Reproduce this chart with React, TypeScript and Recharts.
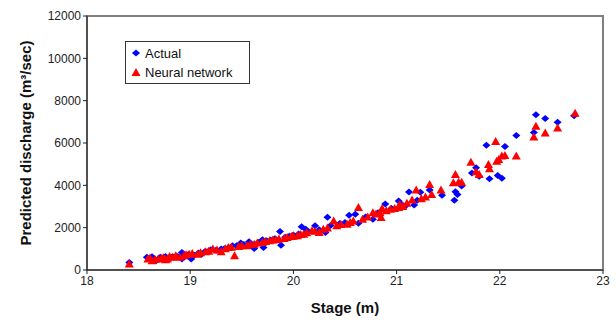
import { Scatter, ScatterChart, XAxis, YAxis, ZAxis, ReferenceArea } from "recharts";

const xTicks = [18, 19, 20, 21, 22, 23];
const yTicks = [0, 2000, 4000, 6000, 8000, 10000, 12000];

const actualStage = [
  18.41, 18.58, 18.62, 18.63, 18.65, 18.67, 18.7, 18.71, 18.74, 18.76, 18.78, 18.82, 18.84, 18.88, 18.92,
  18.92, 18.95, 18.98, 19.01, 19.04, 19.08, 19.11, 19.14, 19.18, 19.2, 19.25, 19.3, 19.33, 19.37, 19.41,
  19.45, 19.49, 19.52, 19.57, 19.58, 19.62, 19.66, 19.7, 19.71, 19.74, 19.78, 19.82, 19.87, 19.88, 19.92,
  19.96, 20.0, 20.05, 20.08, 20.12, 20.15, 20.21, 20.25, 20.31, 20.33, 20.36, 20.45, 20.5, 20.54, 20.6,
  20.63, 20.7, 20.77, 20.82, 20.89, 20.95, 21.02, 21.05, 21.08, 21.12, 21.17, 21.2, 21.23, 21.32, 21.44,
  21.56, 21.57, 21.59, 21.63, 21.73, 21.77, 21.8, 21.87, 21.9, 21.98, 22.02, 22.05, 22.16, 22.33, 22.35,
  22.44, 22.56, 22.72,
];
const actualFlow = [
  360, 600, 560, 630, 520, 440, 560, 600, 520, 640, 560, 600, 600, 640, 830,
  520, 680, 720, 520, 700, 800, 750, 860, 900, 955, 930, 990, 1000, 1050, 1145,
  1150, 1270, 1200, 1330, 1250, 1020, 1300, 1430, 1065, 1380, 1420, 1480, 1820, 1175, 1550,
  1600, 1650, 1700, 2040, 1930, 1800, 2085, 1900, 1770, 2490, 2100, 2200, 2250, 2590, 2630,
  2210, 2500, 2400, 2700, 3120, 2900, 3260, 3100, 3000, 3680, 3070, 3300, 3670, 3780, 3530,
  3290, 3700, 3570, 3965, 4580, 4830, 4435, 5890, 4310, 4470, 4330, 5830, 6350, 6500, 7330,
  7160, 6975, 7290,
];

const nnStage = [
  18.41, 18.59, 18.61, 18.63, 18.66, 18.69, 18.72, 18.74, 18.76, 18.78, 18.8, 18.83, 18.86, 18.9, 18.94,
  18.96, 18.99, 19.02, 19.07, 19.1, 19.15, 19.18, 19.22, 19.26, 19.3, 19.34, 19.37, 19.4, 19.43, 19.47,
  19.5, 19.55, 19.58, 19.62, 19.65, 19.7, 19.73, 19.77, 19.8, 19.83, 19.86, 19.91, 19.94, 19.98, 20.0,
  20.04, 20.07, 20.1, 20.13, 20.18, 20.21, 20.25, 20.29, 20.33, 20.39, 20.42, 20.46, 20.52, 20.55, 20.58,
  20.63, 20.67, 20.72, 20.77, 20.8, 20.84, 20.85, 20.86, 20.9, 20.94, 20.98, 21.02, 21.03, 21.06, 21.1,
  21.15, 21.19, 21.24, 21.28, 21.32, 21.34, 21.43, 21.55, 21.57, 21.6, 21.63, 21.72, 21.77, 21.8, 21.89,
  21.9, 21.96, 21.97, 21.99, 22.02, 22.05, 22.16, 22.33, 22.35, 22.44, 22.56, 22.73,
];
const nnFlow = [
  280, 520, 560, 440, 500, 520, 540, 580, 485, 520, 640, 600, 675, 600, 675,
  720, 750, 780, 750, 820, 860, 880, 990, 950, 860, 1000, 1065, 1080, 675, 1110,
  1150, 1145, 1200, 1220, 1270, 1300, 1350, 1380, 1420, 1430, 1470, 1490, 1540, 1580, 1600,
  1615, 1680, 1690, 1760, 1850, 1830, 1770, 1930, 1980, 2320, 2085, 2150, 2160, 2250, 2320,
  2950, 2400, 2500, 2710, 2650, 2710, 2480, 2900, 2800, 2870, 2900, 2950, 3100, 3000, 3150,
  3310, 3780, 3370, 3450, 4040, 3570, 3780, 4120, 4515, 4150, 4150, 5095, 4640, 4515, 4985,
  4780, 6065, 5140, 5220, 5380, 5410, 5380, 6285, 6790, 6470, 6710, 7410,
];

const actual = actualStage.map((x, i) => ({ x, y: actualFlow[i] }));
const neural = nnStage.map((x, i) => ({ x, y: nnFlow[i] }));

const font = "'Liberation Sans', Arial, sans-serif";

// squat excel-style diamond, positioned by recharts (cx, cy)
const Diamond = (props: any) => {
  const { cx, cy, fill } = props;
  return <polygon points={`${cx},${cy - 3.5} ${cx + 4},${cy} ${cx},${cy + 3.5} ${cx - 4},${cy}`} fill={fill} />;
};

const Triangle = (props: any) => {
  const { cx, cy, fill } = props;
  return <polygon points={`${cx},${cy - 4.5} ${cx + 4.5},${cy + 3.5} ${cx - 4.5},${cy + 3.5}`} fill={fill} />;
};

// legend drawn as a plain box over the chart so it takes no layout space
function LegendBox() {
  return (
    <div
      style={{
        position: "absolute",
        left: 125,
        top: 41,
        border: "1px solid #333",
        background: "#fff",
        width: 125,
        height: 43,
        fontFamily: font,
        fontSize: 13,
        color: "#111",
        boxSizing: "border-box",
        padding: "2px 0 0 5px",
        lineHeight: "19px",
      }}
    >
      <div>
        <svg width="10" height="10" style={{ marginRight: 4 }}>
          <polygon points="5,1.5 9,5 5,8.5 1,5" fill="#0000ff" />
        </svg>
        Actual
      </div>
      <div>
        <svg width="10" height="10" style={{ marginRight: 4 }}>
          <polygon points="5,1 9.5,9 0.5,9" fill="#ff0000" />
        </svg>
        Neural network
      </div>
    </div>
  );
}

export default function App() {
  return (
    <div style={{ position: "absolute", left: 0, top: 0, width: 616, height: 322, background: "#fff" }}>
      <ScatterChart width={616} height={322} margin={{ top: 16, right: 13, bottom: 22, left: 0 }}>
        <ReferenceArea x1={18} x2={23} y1={0} y2={12000} fill="none" stroke="#808080" strokeWidth={2} ifOverflow="visible" />
        <XAxis
          type="number"
          dataKey="x"
          domain={[18, 23]}
          ticks={xTicks}
          height={30}
          tickSize={4}
          axisLine={{ stroke: "#222" }}
          tickLine={{ stroke: "#222" }}
          tick={{ fill: "#222", fontSize: 12, fontFamily: font }}
          label={{ value: "Stage (m)", position: "bottom", offset: 2, fill: "#111", fontSize: 15, fontWeight: "bold", fontFamily: font }}
        />
        <YAxis
          type="number"
          dataKey="y"
          domain={[0, 12000]}
          ticks={yTicks}
          width={87}
          tickSize={4}
          axisLine={{ stroke: "#222" }}
          tickLine={{ stroke: "#222" }}
          tick={{ fill: "#222", fontSize: 12, fontFamily: font }}
          label={{ value: "Predicted discharge (m³/sec)", angle: -90, position: "insideLeft", offset: 26, fill: "#111", fontSize: 15, fontWeight: "bold", fontFamily: font, style: { textAnchor: "middle" } }}
        />
        <ZAxis range={[24, 24]} />
        <Scatter name="Actual" data={actual} fill="#0000ff" shape={Diamond} isAnimationActive={false} />
        <Scatter name="Neural network" data={neural} fill="#ff0000" shape={Triangle} isAnimationActive={false} />
      </ScatterChart>
      <LegendBox />
    </div>
  );
}
